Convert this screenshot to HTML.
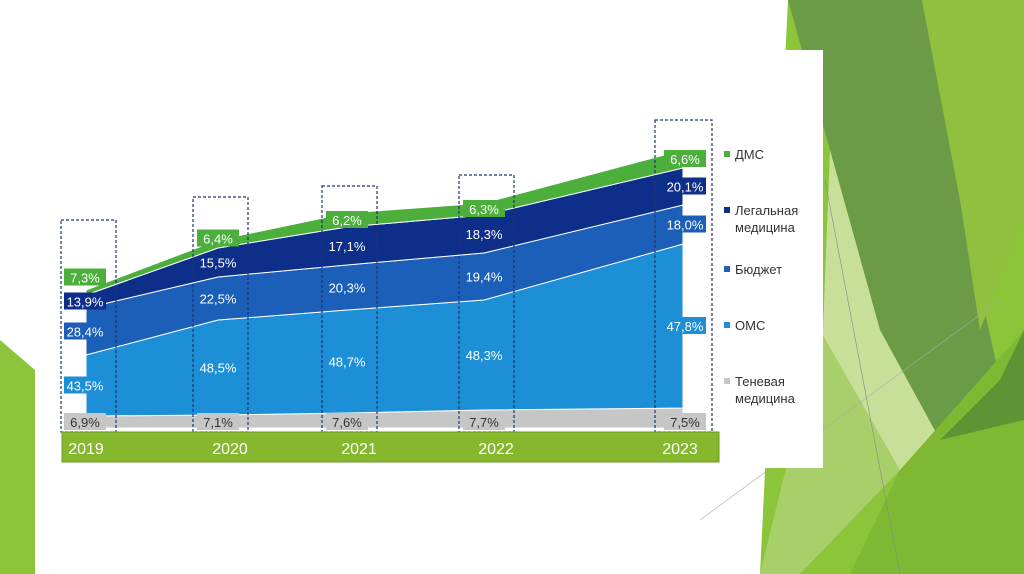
<!DOCTYPE html>
<html><head><meta charset="utf-8">
<style>
html,body{margin:0;padding:0;width:1024px;height:574px;overflow:hidden;background:#fff;}
svg{display:block}
text{font-family:"Liberation Sans","DejaVu Sans",sans-serif;}
</style></head>
<body>
<svg id="chart" width="1024" height="574" viewBox="0 0 1024 574">
  <g>
    <rect x="0" y="0" width="1024" height="574" fill="#ffffff"/>
    <polygon points="0,340 35,370 35,574 0,574" fill="#8cc43a"/>
    <polygon points="788,0 1024,0 1024,574 760,574" fill="#8cc43a"/>
    <polygon points="788,0 922,0 960,200 1000,380 940,440 880,330 830,150" fill="#6b9b46"/>
    <polygon points="922,0 1024,0 1024,220 980,330 960,200" fill="#8fc13e"/>
    <polygon points="830,150 880,330 940,440 900,470 800,560 760,574 823,330" fill="#c8df9a"/>
    <polygon points="820,330 900,470 800,574 760,574" fill="#a9cf6a"/>
    <polygon points="900,470 1024,330 1024,574 850,574" fill="#7fb832"/>
    <polygon points="940,440 1000,380 1024,330 1024,420" fill="#5e9433"/>
    <line x1="825" y1="180" x2="900" y2="574" stroke="#888" stroke-width="0.6"/>
    <line x1="700" y1="520" x2="1000" y2="300" stroke="#aaa" stroke-width="0.6"/>
  </g>
  <rect x="38" y="50" width="785" height="418" fill="#ffffff"/>
  <g id="plot"></g>
  <g id="labels"></g>
  <g>
    <rect x="62" y="432" width="657" height="30" fill="#86b82e" stroke="#6f9a22" stroke-width="1"/>
    <g id="xticks"></g>
  </g>
  <g font-size="13" fill="#333">
    <g><rect x="724" y="151" width="6" height="6" fill="#4caf3c"/><text x="735" y="159" fill="#333">ДМС</text></g>
    <g><rect x="724" y="207" width="6" height="6" fill="#0d2f8a"/><text x="735" y="215" fill="#333">Легальная</text><text x="735" y="232" fill="#333">медицина</text></g>
    <g><rect x="724" y="266" width="6" height="6" fill="#1b5fb8"/><text x="735" y="274" fill="#333">Бюджет</text></g>
    <g><rect x="724" y="322" width="6" height="6" fill="#1c8fd6"/><text x="735" y="330" fill="#333">ОМС</text></g>
    <g><rect x="724" y="378" width="6" height="6" fill="#c6c6c6"/><text x="735" y="386" fill="#333">Теневая</text><text x="735" y="403" fill="#333">медицина</text></g>
  </g>
</svg>
<script>
const years = ["2019","2020","2021","2022","2023"];
const shadow = [12, 13, 15, 18, 20];
const oms = [61, 95, 103, 110, 164];
const budget = [47, 43, 45, 47, 39];
const legal = [13, 29, 38, 38, 37];
const dms = [5, 8, 14, 12, 18];
const pctShadow = ["6,9%","7,1%","7,6%","7,7%","7,5%"];
const pctOms = ["43,5%","48,5%","48,7%","48,3%","47,8%"];
const pctBudget = ["28,4%","22,5%","20,3%","19,4%","18,0%"];
const pctLegal = ["13,9%","15,5%","17,1%","18,3%","20,1%"];
const pctDms = ["7,3%","6,4%","6,2%","6,3%","6,6%"];

const NS="http://www.w3.org/2000/svg";
const xPos=[86,218,347,484,683];
function xp(i){ return xPos[i]; }
function yS(v){ return 428 - v; }
const series=[
 {name:"shadow",vals:shadow,pct:pctShadow,color:"#c6c6c6",txt:"#333",alwaysBg:true},
 {name:"oms",vals:oms,pct:pctOms,color:"#1c8fd6",txt:"#fff",alwaysBg:false},
 {name:"budget",vals:budget,pct:pctBudget,color:"#1b5fb8",txt:"#fff",alwaysBg:false},
 {name:"legal",vals:legal,pct:pctLegal,color:"#0d2f8a",txt:"#fff",alwaysBg:false},
 {name:"dms",vals:dms,pct:pctDms,color:"#4caf3c",txt:"#fff",alwaysBg:true}
];
const plot=document.getElementById('plot');
const labels=document.getElementById('labels');
let cum=years.map(()=>0);
const bands=[];
series.forEach(s=>{
  const lo=cum.slice(); const hi=cum.map((c,i)=>c+s.vals[i]);
  let d="M"+xp(0)+","+yS(hi[0]);
  for(let i=1;i<years.length;i++) d+=" L"+xp(i)+","+yS(hi[i]);
  for(let i=years.length-1;i>=0;i--) d+=" L"+xp(i)+","+yS(lo[i]);
  d+=" Z";
  const p=document.createElementNS(NS,'path');
  p.setAttribute('d',d); p.setAttribute('fill',s.color);
  p.setAttribute('stroke','#ffffff'); p.setAttribute('stroke-width','1');
  
  
  plot.appendChild(p);
  bands.push({s:s,lo:lo,hi:hi});
  cum=hi;
});
const boxPad=[70,43,27,28,30];
for(let i=0;i<years.length;i++){
  const top=yS(cum[i])-boxPad[i];
  const r=document.createElementNS(NS,'rect');
  r.setAttribute('x',xp(i)-(i===4?28:25)); r.setAttribute('y',top);
  r.setAttribute('width',i===4?57:55); r.setAttribute('height',432-top);
  r.setAttribute('fill','none'); r.setAttribute('stroke','#1e3470');
  r.setAttribute('stroke-dasharray','3,2'); r.setAttribute('stroke-width','1.2');
  
  
  plot.appendChild(r);
}
for(let i=0;i<years.length;i++){
  let prevY=1000;
  bands.forEach((b,k)=>{
    let y=(yS(b.lo[i])+yS(b.hi[i]))/2;
    if(k===0) y=yS(b.lo[i])-6;
    if(prevY-y<24) y=prevY-24;
    prevY=y;
    const cx = i===0 ? 85 : (i===4 ? 685 : xp(i));
    const g=document.createElementNS(NS,'g');
    
    
    if(b.s.alwaysBg || i===0 || i===4){
      const r=document.createElementNS(NS,'rect');
      r.setAttribute('x',cx-21); r.setAttribute('y',y-9); r.setAttribute('width',42); r.setAttribute('height',17);
      r.setAttribute('fill',b.s.color);
      g.appendChild(r);
    }
    const t=document.createElementNS(NS,'text');
    t.setAttribute('x',cx); t.setAttribute('y',y+5); t.setAttribute('text-anchor','middle');
    t.setAttribute('font-size','13'); t.setAttribute('fill',b.s.txt);
    t.textContent=b.s.pct[i];
    g.appendChild(t);
    labels.appendChild(g);
  });
}
const xt=document.getElementById('xticks');
years.forEach((y,i)=>{
  const t=document.createElementNS(NS,'text');
  t.setAttribute('x',i===0?86:(i===4?680:xp(i)+12)); t.setAttribute('y',454);
  t.setAttribute('text-anchor','middle'); t.setAttribute('font-size','16'); t.setAttribute('fill','#fff');
  
  
  t.textContent=y; xt.appendChild(t);
});
</script>
</body></html>
